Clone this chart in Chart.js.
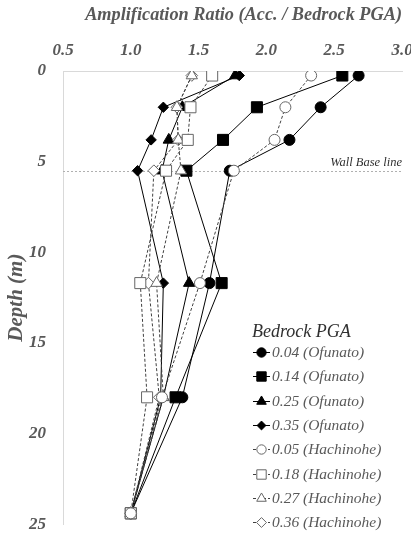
<!DOCTYPE html>
<html>
<head>
<meta charset="utf-8">
<script src="https://cdn.jsdelivr.net/npm/chart.js@4/dist/chart.umd.min.js"></script>
<style>
html,body{margin:0;padding:0;background:#fff;}
#wrap{width:411px;height:533px;}
</style>
</head>
<body>
<div id="wrap"><canvas id="c" width="411" height="533"></canvas></div>
<script>
// ---- data ----
const depths = [0.25, 2.0, 3.8, 5.5, 11.7, 18.0, 24.4];
const ofunato004 = [2.68, 2.40, 2.17, 1.73, 1.58, 1.38, 1.00];
const ofunato014 = [2.56, 1.93, 1.68, 1.41, 1.67, 1.33, 1.00];
const ofunato025 = [1.77, 1.38, 1.28, 1.23, 1.43, 1.24, 1.00];
const ofunato035 = [1.80, 1.24, 1.15, 1.05, 1.24, 1.22, 1.00];
const hachinohe005 = [2.33, 2.14, 2.06, 1.76, 1.51, 1.23, 1.00];
const hachinohe018 = [1.60, 1.44, 1.42, 1.26, 1.07, 1.12, 1.00];
const hachinohe027 = [1.45, 1.34, 1.35, 1.37, 1.19, 1.24, 1.00];
const hachinohe036 = [1.45, 1.34, 1.35, 1.17, 1.13, 1.21, 1.00];
const seriesLabels = ['0.04 (Ofunato)', '0.14 (Ofunato)', '0.25 (Ofunato)', '0.35 (Ofunato)',
                      '0.05 (Hachinohe)', '0.18 (Hachinohe)', '0.27 (Hachinohe)', '0.36 (Hachinohe)'];
const xTicks = [0.5, 1.0, 1.5, 2.0, 2.5, 3.0];
const yTicks = [0, 5, 10, 15, 20, 25];
const wallBaseDepth = 5.5;
const xTitle = 'Amplification Ratio (Acc. / Bedrock PGA)';
const yTitle = 'Depth (m)';
const legendTitle = 'Bedrock PGA';
const wallLabel = 'Wall Base line';

// ---- build ----
const seriesValues = [ofunato004, ofunato014, ofunato025, ofunato035,
                      hachinohe005, hachinohe018, hachinohe027, hachinohe036];
const shapes = ['circle', 'rect', 'triangle', 'rectRot', 'circle', 'rect', 'triangle', 'rectRot'];
const radii = [5.5, 7.8, 6.5, 5.2, 5.5, 7.8, 6.5, 5.8];
const GRAY = '#595959';
const FONT = '"Liberation Serif", "Times New Roman", serif';

const datasets = seriesValues.map((vals, i) => {
  const filled = i < 4;
  return {
    label: seriesLabels[i],
    data: vals.map((v, k) => ({x: v, y: depths[k]})),
    showLine: true,
    borderColor: filled ? '#000' : '#404040',
    borderWidth: 1,
    borderDash: filled ? [] : [3, 2],
    pointStyle: shapes[i],
    pointRadius: radii[i],
    pointBackgroundColor: filled ? '#000' : '#fff',
    pointBorderColor: filled ? '#000' : '#666',
    pointBorderWidth: 1,
    order: filled ? 1 : 0,
    tension: 0
  };
});

const decor = {
  id: 'decor',
  beforeDatasetsDraw(chart) {
    const {ctx, chartArea, scales} = chart;
    const y = Math.round(scales.y.getPixelForValue(wallBaseDepth)) + 0.5;
    ctx.save();
    ctx.strokeStyle = '#b0b0b0';
    ctx.lineWidth = 1;
    ctx.setLineDash([2, 2]);
    ctx.beginPath();
    ctx.moveTo(chartArea.left, y);
    ctx.lineTo(chartArea.right, y);
    ctx.stroke();
    ctx.setLineDash([]);
    ctx.fillStyle = '#303030';
    ctx.font = 'italic 12.5px ' + FONT;
    ctx.textAlign = 'right';
    ctx.textBaseline = 'alphabetic';
    ctx.fillText(wallLabel, chartArea.right, y - 6);
    ctx.restore();
  },
  afterDraw(chart) {
    const {ctx} = chart;
    ctx.save();
    ctx.fillStyle = '#303030';
    ctx.font = 'italic 18px ' + FONT;
    ctx.textAlign = 'left';
    ctx.textBaseline = 'middle';
    ctx.fillText(legendTitle, 252, 332);
    const x0 = 253, x1 = 270, startY = 352, step = 24.3;
    chart.data.datasets.forEach((ds, i) => {
      const yy = Math.round(startY + i * step) + 0.5;
      ctx.strokeStyle = ds.borderColor;
      ctx.lineWidth = 1;
      ctx.setLineDash(ds.borderDash);
      ctx.beginPath();
      ctx.moveTo(x0, yy);
      ctx.lineTo(x1, yy);
      ctx.stroke();
      ctx.setLineDash([]);
      ctx.fillStyle = ds.pointBackgroundColor;
      ctx.strokeStyle = ds.pointBorderColor;
      Chart.helpers.drawPoint(ctx, {pointStyle: ds.pointStyle, radius: ds.pointRadius * 0.85, borderWidth: 1, rotation: 0}, (x0 + x1) / 2, yy);
      ctx.fillStyle = GRAY;
      ctx.font = 'italic 15.5px ' + FONT;
      ctx.textAlign = 'left';
      ctx.textBaseline = 'middle';
      ctx.fillText(ds.label, x1 + 2, yy);
    });
    ctx.restore();
  }
};

new Chart(document.getElementById('c'), {
  type: 'scatter',
  data: {datasets},
  options: {
    responsive: false,
    animation: false,
    layout: {padding: {left: 0, right: 9, top: 0, bottom: 5}},
    plugins: {legend: {display: false}, tooltip: {enabled: false}},
    scales: {
      x: {
        type: 'linear',
        position: 'top',
        min: 0.5, max: 3.0,
        afterBuildTicks(s) { s.ticks = xTicks.map(v => ({value: v})); },
        afterFit(s) { s.height = 71; s.paddingLeft = 0; s.paddingRight = 0; },
        grid: {display: false, drawTicks: false},
        border: {display: true, color: '#d9d9d9', width: 1},
        ticks: {
          padding: 10,
          color: GRAY,
          font: {family: FONT, size: 17, style: 'italic', weight: 'bold'},
          callback: v => Number(v).toFixed(1)
        },
        title: {
          display: true, text: xTitle, color: GRAY, align: 'end',
          padding: {top: 4, bottom: 0},
          font: {family: FONT, size: 18.3, style: 'italic', weight: 'bold'}
        }
      },
      y: {
        type: 'linear',
        reverse: true,
        min: 0, max: 25,
        afterBuildTicks(s) { s.ticks = yTicks.map(v => ({value: v})); },
        afterFit(s) { s.width = 63; s.paddingTop = 0; s.paddingBottom = 0; },
        grid: {display: false, drawTicks: false},
        border: {display: true, color: '#d9d9d9', width: 1},
        ticks: {
          padding: 17,
          color: GRAY,
          font: {family: FONT, size: 17, style: 'italic', weight: 'bold'}
        },
        title: {
          display: true, text: yTitle, color: GRAY,
          padding: {top: 4, bottom: 0},
          font: {family: FONT, size: 21, style: 'italic', weight: 'bold'}
        }
      }
    }
  },
  plugins: [decor]
});
</script>
</body>
</html>
